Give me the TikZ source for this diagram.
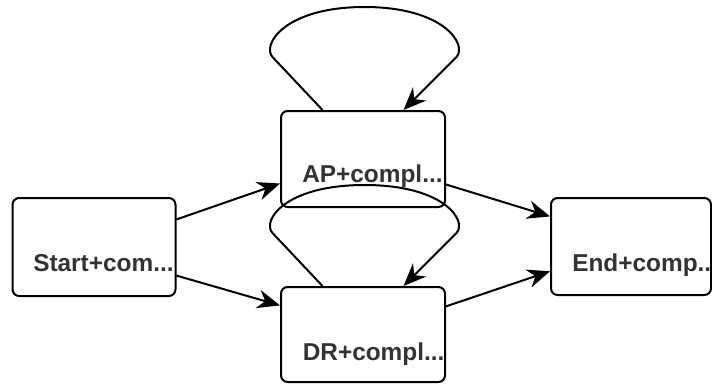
\documentclass[tikz,border=0pt]{standalone}
\usepackage{fontspec}
\setmainfont{Liberation Sans}
\usetikzlibrary{arrows.meta,calc}
\begin{document}
\begin{tikzpicture}[x=0.75pt,y=-0.75pt,
  box/.style={draw=black,line width=1.5pt,rounded corners=5pt,inner sep=0pt,fill=white},
  lbl/.style={anchor=base west,inner sep=0pt,text=black!80,font=\bfseries\fontsize{18.3pt}{20pt}\selectfont},
  tip/.tip={Stealth[length=17pt,width=14pt,inset=5.5pt]},
  conn/.style={line width=1.5pt,-tip}]
\useasboundingbox (0,0) rectangle (712,383);
% boxes
\node[box,minimum width=163*0.75pt,minimum height=98*0.75pt] (s) at (94,247) {};
\node[box,minimum width=164*0.75pt,minimum height=96*0.75pt] (ap) at (363,159) {};
\node[box,minimum width=164*0.75pt,minimum height=95*0.75pt] (dr) at (363,334.5) {};
\node[box,minimum width=160*0.75pt,minimum height=97*0.75pt] (e) at (631,246.5) {};
% labels
\node[lbl] (st) at (33,271.7) {Start+com...};
\node[lbl] (apt) at (302,182.3) {AP+compl...};
\node[lbl] (drt) at (302.5,360) {DR+compl...};
\node[lbl] (et) at (572,271.7) {End+comp..};
% anchor points
\coordinate (s1) at ($(s.north east)!0.224!(s.south east)$);
\coordinate (s2) at ($(s.north east)!0.786!(s.south east)$);
\coordinate (apin) at ($(ap.north west)!0.75!(ap.south west)$);
\coordinate (apout) at ($(ap.north east)!0.76!(ap.south east)$);
\coordinate (drin) at ($(dr.north west)!0.2!(dr.south west)$);
\coordinate (drout) at ($(dr.north east)!0.21!(dr.south east)$);
\coordinate (e1) at ($(e.north west)!0.196!(e.south west)$);
\coordinate (e2) at ($(e.north west)!0.75!(e.south west)$);
\coordinate (apl) at ($(ap.north west)!0.256!(ap.north east)$);
\coordinate (apr) at ($(ap.north west)!0.744!(ap.north east)$);
\coordinate (drl) at ($(dr.north west)!0.256!(dr.north east)$);
\coordinate (drr) at ($(dr.north west)!0.744!(dr.north east)$);
% connectors
\draw[conn] (s1) -- (apin);
\draw[conn] (s2) -- (drin);
\draw[conn] (apout) -- (e1);
\draw[conn] (drout) -- (e2);
% self loops
\draw[conn] (apl) -- ++(-50,-53) .. controls +(-11,-12) and +(-80,0) .. ++(92,-50)
  .. controls +(80,0) and +(11,-12) .. ++(92,50) -- (apr);
\draw[conn] (drl) -- ++(-50,-53) .. controls +(-11,-12) and +(-80,0) .. ++(92,-48)
  .. controls +(80,0) and +(11,-12) .. ++(92,48) -- (drr);
\end{tikzpicture}
\end{document}
